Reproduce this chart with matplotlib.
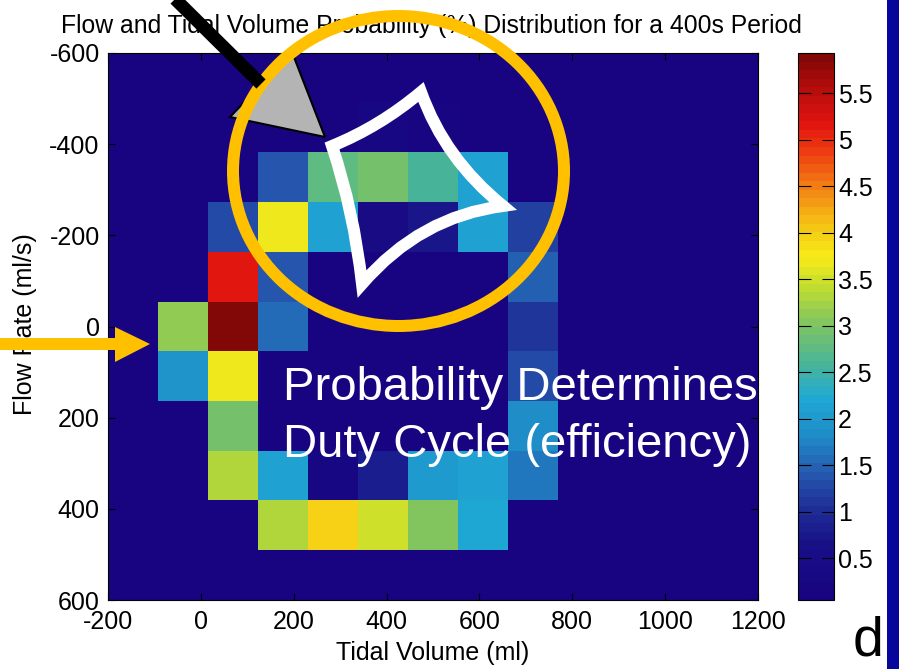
import numpy as np
import matplotlib
matplotlib.use("Agg")
import matplotlib.pyplot as plt
from matplotlib.colors import LinearSegmentedColormap
from matplotlib.patches import Ellipse, Polygon, PathPatch, Rectangle
from matplotlib.path import Path

plt.rcParams["font.family"] = ["Liberation Sans", "DejaVu Sans"]
plt.rcParams["axes.unicode_minus"] = False

# Bin edges of the 2-D histogram
tidal_range = (-200, 1200)   # ml
flow_range = (-600, 600)     # ml/s
n_tidal_bins = 13
n_flow_bins = 11

# Probability (%) of each (flow, tidal volume) bin; rows run from -600 ml/s downwards to 600 ml/s
bg = 0.05
prob = np.array([
    [bg, bg, bg, bg, bg, bg, bg, bg, bg, bg, bg, bg, bg],
    [bg, bg, bg, bg, bg, 0.25, 0.2, bg, bg, bg, bg, bg, bg],
    [bg, bg, bg, 1.40, 2.75, 2.90, 2.60, 2.15, bg, bg, 0.10, 0.10, bg],
    [bg, bg, 1.30, 3.70, 2.10, 0.50, 0.70, 2.10, 1.20, bg, bg, bg, bg],
    [bg, bg, 5.15, 1.40, bg, bg, bg, bg, 1.45, bg, bg, bg, bg],
    [bg, 3.10, 5.93, 1.60, bg, bg, bg, bg, 1.10, bg, bg, bg, bg],
    [bg, 1.90, 3.65, bg, bg, bg, bg, bg, 1.30, bg, bg, bg, bg],
    [bg, bg, 2.90, bg, bg, bg, bg, bg, 1.80, bg, bg, bg, bg],
    [bg, bg, 3.30, 2.10, 0.30, 0.85, 2.05, 2.10, 1.70, bg, bg, bg, bg],
    [bg, bg, bg, 3.30, 4.00, 3.45, 3.00, 2.20, bg, bg, bg, bg, bg],
    [bg, bg, bg, bg, bg, bg, bg, bg, bg, bg, bg, bg, bg],
])

x_ticks = [-200, 0, 200, 400, 600, 800, 1000, 1200]
y_ticks = [-600, -400, -200, 0, 200, 400, 600]
cbar_ticks = [0.5, 1, 1.5, 2, 2.5, 3, 3.5, 4, 4.5, 5, 5.5]

title = "Flow and Tidal Volume Probability (%) Distribution for a 400s Period"
x_label = "Tidal Volume (ml)"
y_label = "Flow Rate (ml/s)"
note_lines = ["Probability Determines", "Duty Cycle (efficiency)"]
panel_letter = "d"

# Muted jet-style colour ramp (value -> colour)
ramp = [
    (0.05, (24, 4, 128)), (0.6, (24, 15, 135)), (1.0, (30, 45, 150)),
    (1.4, (38, 90, 175)), (1.8, (30, 140, 200)), (2.2, (32, 168, 212)),
    (2.6, (75, 182, 150)), (3.0, (125, 195, 100)), (3.4, (190, 220, 50)),
    (3.75, (248, 235, 25)), (4.1, (245, 195, 20)), (4.5, (242, 130, 20)),
    (4.9, (238, 60, 18)), (5.2, (225, 20, 15)), (5.6, (180, 12, 12)),
    (5.93, (130, 8, 8)),
]
vmin, vmax = prob.min(), prob.max()
cmap = LinearSegmentedColormap.from_list(
    "mutedjet",
    [((v - vmin) / (vmax - vmin), tuple(c / 255 for c in rgb)) for v, rgb in ramp],
    N=64,
)

W, H = 899, 669
fig = plt.figure(figsize=(W / 100, H / 100), dpi=100)
fig.patch.set_facecolor("white")


def fx(px):
    return px / W


def fy(py):
    return 1 - py / H


FS = 18
ax = fig.add_axes([fx(108), fy(600), fx(758) - fx(108), fy(53) - fy(600)])
im = ax.imshow(prob, cmap=cmap, vmin=vmin, vmax=vmax, aspect="auto",
               interpolation="nearest",
               extent=[tidal_range[0], tidal_range[1], flow_range[1], flow_range[0]])
ax.set_xlim(*tidal_range)
ax.set_ylim(flow_range[1], flow_range[0])
ax.set_xticks(x_ticks)
ax.set_yticks(y_ticks)
ax.tick_params(direction="in", length=5, width=0.8, top=True, right=True,
               labelsize=FS)
ax.tick_params(axis="x", pad=7)
ax.tick_params(axis="y", pad=6)
for s in ax.spines.values():
    s.set_linewidth(0.8)

cax = fig.add_axes([fx(798), fy(600), fx(834) - fx(798), fy(53) - fy(600)])
cb = fig.colorbar(im, cax=cax, ticks=cbar_ticks)
cb.ax.set_yticklabels([f"{t:g}" for t in cbar_ticks])
cb.ax.tick_params(direction="in", length=9, width=0.8, left=True, right=True,
                  labelsize=FS, pad=3)
cb.outline.set_linewidth(0.8)

fig.text(fx(431), fy(33), title, ha="center", va="baseline", fontsize=17.8)
fig.text(fx(433), fy(660), x_label, ha="center", va="baseline", fontsize=FS)
fig.text(fx(25), fy(324), y_label, ha="center", va="center", rotation=90,
         fontsize=FS)

# Slide overlay drawn in pixel coordinates on top of the chart
ov = fig.add_axes([0, 0, 1, 1], zorder=10)
ov.set_xlim(0, W)
ov.set_ylim(H, 0)
ov.axis("off")
ov.patch.set_facecolor("none")

px2pt = 0.72
gold = "#FFC000"

# blue edge of the slide
ov.add_patch(Rectangle((887, 0), 12, H, facecolor="#06069C", edgecolor="none"))

# black pointer with grey head
ov.plot([166, 261], [-10, 84], color="black", lw=13 * px2pt, solid_capstyle="butt")
ov.add_patch(Polygon([(292, 52), (230, 117), (325, 137)], closed=True,
                     facecolor="#B4B4B4", edgecolor="black", lw=1.5,
                     joinstyle="miter"))

# gold ring
ov.add_patch(Ellipse((398.5, 171), 331, 310, facecolor="none", edgecolor=gold,
                     lw=12 * px2pt))

# white concave four-point outline
corners = [(332, 146), (421, 92), (503, 206), (362, 284)]
bend = [0.12, 0.3, 0.45, 0.12]
cx = np.mean([p[0] for p in corners])
cy = np.mean([p[1] for p in corners])
verts, codes = [corners[0]], [Path.MOVETO]
for i in range(4):
    p0 = np.array(corners[i])
    p1 = np.array(corners[(i + 1) % 4])
    mid = (p0 + p1) / 2
    ctrl = mid + bend[i] * (np.array([cx, cy]) - mid)
    verts += [tuple(ctrl), tuple(p1)]
    codes += [Path.CURVE3, Path.CURVE3]
verts.append(corners[0])
codes.append(Path.CLOSEPOLY)
ov.add_patch(PathPatch(Path(verts, codes), facecolor="none", edgecolor="white",
                       lw=12 * px2pt, joinstyle="miter"))

# gold arrow on the left
ov.add_patch(Polygon([(0, 338), (115, 338), (115, 327), (150, 344),
                      (115, 362), (115, 350), (0, 350)], closed=True,
                     facecolor=gold, edgecolor="none"))

ov.text(283, 400, note_lines[0], color="white", fontsize=34, ha="left",
        va="baseline")
ov.text(283, 457, note_lines[1], color="white", fontsize=34, ha="left",
        va="baseline")
ov.text(853, 655, panel_letter, color="black", fontsize=40, ha="left",
        va="baseline")

fig.savefig("out.png", dpi=100)
